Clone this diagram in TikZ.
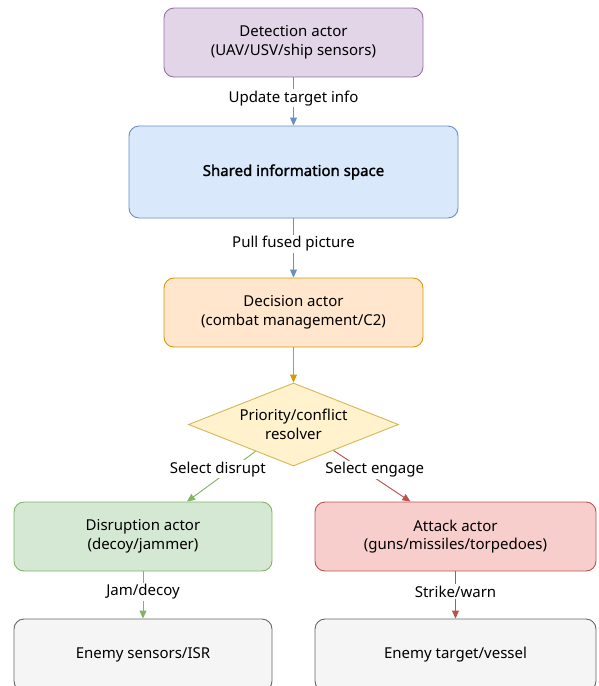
\documentclass[tikz,border=0pt]{standalone}
\usepackage{fontspec}
\setmainfont{Noto Sans}
\newfontfamily\semib[AutoFakeBold=1.6]{Noto Sans}
\usetikzlibrary{arrows.meta,shapes.geometric,calc}
\definecolor{purF}{HTML}{E1D5E7}\definecolor{purD}{HTML}{9673A6}
\definecolor{bluF}{HTML}{DAE8FC}\definecolor{bluD}{HTML}{6C8EBF}
\definecolor{orF}{HTML}{FFE6CC}\definecolor{orD}{HTML}{D79B00}
\definecolor{yeF}{HTML}{FFF2CC}\definecolor{yeD}{HTML}{D6B656}
\definecolor{grF}{HTML}{D5E8D4}\definecolor{grD}{HTML}{82B366}
\definecolor{reF}{HTML}{F8CECC}\definecolor{reD}{HTML}{B85450}
\definecolor{gyF}{HTML}{F5F5F5}\definecolor{gyD}{HTML}{666666}
\tikzset{
  box/.style={draw, rounded corners=10pt, line width=0.9pt, align=center,
    font=\fontsize{15}{18.5}\selectfont, inner sep=0pt},
  lab/.style={fill=white, inner sep=1.5pt, font=\fontsize{15}{18}\selectfont},
  conn/.style={line width=0.9pt, -{Triangle[length=8pt,width=7pt]}},
}
\begin{document}
\begin{tikzpicture}[x=1pt,y=-1pt]
\useasboundingbox (0,0) rectangle (598,686);
\clip (0,0) rectangle (598,686);
\node[box, fill=purF, draw=purD, minimum width=259pt, minimum height=69pt] (det) at (293.5,42.5)
  {Detection actor\\(UAV/USV/ship sensors)};
\node[box, fill=bluF, draw=bluD, minimum width=329pt, minimum height=92pt, font=\fontsize{15}{18}\semib\bfseries] (sis) at (293.5,172)
  {Shared information space};
\node[box, fill=orF, draw=orD, minimum width=259pt, minimum height=69pt] (dec) at (293.5,312.5)
  {Decision actor\\(combat management/C2)};
\node[draw=yeD, fill=yeF, line width=0.9pt, diamond, aspect=2.53, minimum width=210pt, minimum height=83pt,
  inner sep=0pt, align=center, font=\fontsize{15}{18.5}\selectfont] (res) at (293.5,424.5)
  {Priority/conflict\\resolver};
\node[box, fill=grF, draw=grD, minimum width=258pt, minimum height=69pt] (dis) at (143,536.5)
  {Disruption actor\\(decoy/jammer)};
\node[box, fill=reF, draw=reD, minimum width=281pt, minimum height=69pt] (att) at (455.5,536.5)
  {Attack actor\\(guns/missiles/torpedoes)};
\node[box, fill=gyF, draw=gyD, minimum width=258pt, minimum height=72pt] (ens) at (143,655)
  {Enemy sensors/ISR};
\node[box, fill=gyF, draw=gyD, minimum width=281pt, minimum height=72pt] (ent) at (455.5,655)
  {Enemy target/vessel};

\draw[conn, draw=bluD, fill=bluD] (det) -- node[lab, pos=0.43] {Update target info} (sis);
\draw[conn, draw=bluD, fill=bluD] (sis) -- node[lab, pos=0.43] {Pull fused picture} (dec);
\draw[conn, draw=orD, fill=orD] (dec) -- (res);
\coordinate (gs) at ($(res.west)!0.64!(res.south)$);
\coordinate (ge) at ($(dis.north west)!0.67!(dis.north east)$);
\coordinate (rs) at ($(res.east)!0.62!(res.south)$);
\coordinate (re) at ($(att.north west)!0.34!(att.north east)$);
\draw[conn, draw=grD, fill=grD] (gs) -- node[lab, pos=0.36, xshift=-13pt] {Select disrupt} (ge);
\draw[conn, draw=reD, fill=reD] (rs) -- node[lab, pos=0.38, xshift=12pt] {Select engage} (re);
\draw[conn, draw=grD, fill=grD] (dis) -- node[lab, pos=0.43] {Jam/decoy} (ens);
\draw[conn, draw=reD, fill=reD] (att) -- node[lab, pos=0.43] {Strike/warn} (ent);
\end{tikzpicture}
\end{document}
